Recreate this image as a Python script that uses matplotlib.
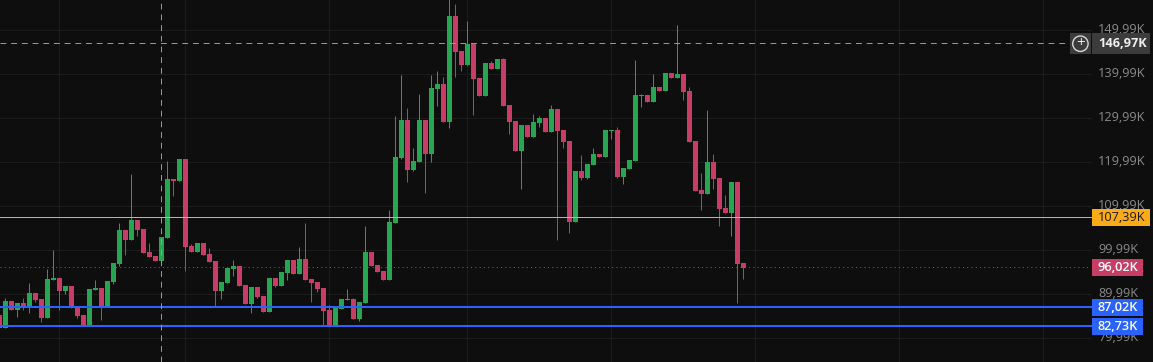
import matplotlib
matplotlib.use('Agg')
import matplotlib.pyplot as plt
import numpy as np
from matplotlib.patches import Rectangle, Circle
from matplotlib.transforms import Affine2D

plt.rcParams['font.family'] = ['Open Sans', 'DejaVu Sans']

# daily candles, prices in thousands
opens = [85.29, 82.41, 88.47, 86.43, 88.02, 87.03, 90.29, 88.93, 84.61, 93.24,
         93.70, 90.74, 91.88, 87.11, 85.29, 82.87, 90.97, 91.43, 87.34, 92.79,
         96.88, 104.61, 102.34, 106.88, 104.84, 99.61, 98.70, 97.56, 102.79, 116.20,
         115.74, 120.74, 100.97, 99.61, 101.65, 99.15, 97.56, 90.74, 92.56, 95.74,
         96.43, 92.11, 87.79, 91.65, 89.61, 85.97, 93.70, 91.88, 94.84, 97.79,
         94.61, 98.02, 93.47, 92.79, 91.43, 86.43, 82.87, 86.65, 88.70, 88.93,
         84.38, 88.02, 99.61, 96.65, 95.29, 93.24, 106.20, 120.97, 129.61, 118.24,
         120.06, 129.61, 121.88, 136.65, 137.79, 129.15, 153.24, 145.29, 142.11, 146.88,
         139.15, 135.06, 142.56, 141.20, 143.47, 133.02, 129.38, 122.56, 128.47, 125.74,
         128.92, 130.06, 126.88, 132.11, 127.33, 124.83, 106.42, 118.01, 116.42, 119.38,
         121.88, 121.19, 127.10, 127.33, 116.65, 118.47, 120.28, 135.06, 135.28, 133.69,
         137.10, 136.19, 140.28, 139.15, 140.06, 136.19, 124.83, 113.69, 112.78, 120.06,
         116.42, 109.60, 108.47, 115.51, 97.10]
closes = [82.41, 88.47, 86.43, 88.02, 87.03, 90.29, 88.70, 84.61, 93.47, 93.70,
          90.74, 91.88, 86.88, 85.06, 82.87, 91.20, 91.43, 87.34, 93.02, 97.11,
          104.61, 102.34, 106.88, 104.61, 99.38, 98.47, 97.56, 103.02, 116.20, 115.74,
          120.74, 100.74, 99.61, 101.65, 98.93, 97.34, 90.74, 92.79, 95.97, 96.43,
          91.88, 87.79, 91.65, 89.38, 85.97, 93.70, 91.88, 95.06, 97.79, 94.61,
          98.02, 93.24, 92.56, 91.20, 86.20, 82.87, 86.88, 88.93, 88.93, 84.38,
          88.24, 99.61, 96.43, 95.06, 93.24, 106.43, 121.20, 129.61, 118.24, 120.29,
          129.61, 121.88, 136.88, 137.79, 129.15, 153.24, 145.06, 142.11, 146.88, 138.93,
          135.06, 142.56, 141.20, 143.47, 132.79, 129.15, 122.56, 128.47, 125.74, 129.15,
          130.06, 126.88, 132.11, 127.11, 124.61, 106.42, 118.01, 116.42, 119.60, 121.88,
          121.19, 127.33, 127.33, 116.65, 118.69, 120.51, 135.28, 135.28, 133.69, 137.10,
          136.19, 140.28, 139.15, 140.06, 135.97, 124.60, 113.47, 112.78, 120.06, 116.19,
          109.38, 108.47, 115.51, 96.88, 96.02]
highs = [85.29, 89.15, 88.47, 88.02, 89.15, 92.56, 90.29, 88.93, 95.74, 100.06,
         93.70, 91.88, 91.88, 87.11, 85.29, 91.20, 93.24, 91.43, 93.02, 97.11,
         106.20, 104.61, 117.34, 106.88, 104.84, 101.65, 98.70, 103.02, 120.29, 116.20,
         120.74, 120.74, 101.43, 101.65, 101.65, 100.52, 97.56, 92.79, 95.97, 97.79,
         96.43, 92.11, 91.65, 91.65, 89.61, 93.70, 93.70, 95.06, 97.79, 97.79,
         100.74, 106.20, 93.47, 92.79, 91.43, 87.56, 87.34, 88.93, 91.20, 89.15,
         88.24, 105.52, 99.61, 96.65, 95.29, 109.15, 130.52, 139.83, 132.33, 123.24,
         135.52, 129.61, 139.83, 140.74, 139.38, 158.00, 155.97, 145.29, 152.11, 146.88,
         139.15, 142.56, 143.02, 143.47, 143.70, 133.02, 129.38, 128.47, 128.47, 130.97,
         130.52, 130.06, 133.02, 132.11, 127.33, 124.83, 118.01, 121.65, 119.60, 123.24,
         121.88, 127.33, 127.33, 128.01, 118.69, 120.51, 143.24, 135.51, 135.28, 140.06,
         137.10, 140.28, 140.28, 151.19, 140.06, 137.10, 124.83, 117.56, 131.88, 121.88,
         116.42, 112.56, 115.51, 115.51, 97.10]
lows = [82.41, 82.41, 86.43, 84.91, 86.43, 85.74, 88.24, 83.70, 84.61, 93.24,
        86.43, 90.06, 86.88, 84.61, 82.87, 82.87, 90.97, 84.15, 87.34, 92.34,
        96.43, 98.93, 102.34, 103.24, 99.38, 98.47, 97.56, 96.88, 102.79, 112.34,
        115.74, 95.37, 99.61, 99.61, 98.93, 97.34, 87.11, 88.93, 92.56, 94.15,
        91.88, 87.79, 85.74, 89.15, 85.97, 85.97, 91.65, 91.88, 93.24, 94.61,
        94.61, 93.24, 88.24, 90.52, 82.87, 82.87, 82.87, 86.65, 88.70, 84.38,
        83.93, 88.02, 96.43, 95.06, 93.24, 93.24, 106.20, 120.74, 115.52, 118.01,
        120.06, 113.02, 120.06, 132.79, 129.15, 127.79, 139.38, 140.74, 142.11, 130.74,
        135.06, 135.06, 141.20, 141.20, 132.79, 126.42, 122.56, 113.92, 125.74, 125.74,
        128.01, 126.88, 126.88, 102.33, 123.24, 103.92, 106.42, 115.97, 116.19, 119.38,
        121.19, 121.19, 125.28, 116.42, 115.06, 118.47, 120.28, 132.56, 133.69, 133.69,
        136.19, 136.19, 139.15, 139.15, 134.15, 124.60, 113.47, 109.15, 112.78, 113.92,
        105.51, 108.47, 103.24, 88.01, 93.47]

tick_values = [149.99, 139.99, 129.99, 119.99, 109.99, 99.99, 89.99, 79.99]
tick_labels = ['149,99K', '139,99K', '129,99K', '119,99K', '109,99K', '99,99K', '89,99K', '79,99K']
month_starts = [10, 31, 55, 78, 102, 126, 150, 174]

crosshair_price = 146.97
crosshair_bar = 27
resistance = 107.39
last_price = 96.02
support_hi = 87.02
support_lo = 82.73

BG = '#0e0e0e'
GRID = '#1d1d1d'
GREEN = '#26a650'
RED = '#c93c66'
BLUE = '#2962ff'
ORANGE = '#fbab16'
AXIS_TEXT = '#8a8a8a'
THIN = 0.7  # stays one pixel wide after snapping

fig = plt.figure(figsize=(11.53, 3.62), dpi=100, facecolor=BG)
ax = fig.add_axes([0, 0, 1, 1], facecolor=BG)
ax.set_xlim(0.11667, 192.283)
ax.set_ylim(74.60, 156.876)
ax.axis('off')

# chart pane ends where the price scale begins
pane_end = 1091 / 1153
text_x = 1098 / 1153
ytrans = ax.get_yaxis_transform()
# level lines sit a hair higher so they snap onto the same pixel rows as the reference
level_trans = ytrans + Affine2D().translate(0, 0.4)
# scale labels ride a little above their gridlines
tick_trans = ytrans + Affine2D().translate(0, 1.2)

for p in tick_values:
    ax.plot([0, pane_end], [p, p], transform=ytrans, color=GRID, lw=THIN, zorder=1)
for m in month_starts:
    ax.axvline(m, color=GRID, lw=THIN, zorder=1)

x = np.arange(len(opens))
o = np.array(opens)
c = np.array(closes)
colors = [GREEN if ci >= oi else RED for oi, ci in zip(o, c)]

ax.vlines(x, lows, highs, colors=colors, lw=THIN, zorder=2)
ax.bar(x, np.abs(c - o), bottom=np.minimum(o, c), width=5 / 6, color=colors, lw=0, zorder=3)

# levels
ax.plot([0, pane_end], [resistance] * 2, transform=level_trans, color='#f5b52e', lw=THIN, zorder=4)
ax.plot([0, pane_end], [last_price] * 2, transform=level_trans, color=RED, lw=THIN, ls=(0, (1, 3.4)), zorder=4)
ax.plot([0, pane_end], [support_hi] * 2, transform=level_trans, color=BLUE, lw=1.44, zorder=4)
ax.plot([0, pane_end], [support_lo] * 2, transform=level_trans, color=BLUE, lw=1.44, zorder=4)

# crosshair
ax.plot([0, 1070 / 1153], [crosshair_price] * 2, transform=level_trans, color='#9c9c9c', lw=THIN, ls=(0, (6, 5)), zorder=5)
ax.axvline(crosshair_bar, color='#9c9c9c', lw=THIN, ls=(0, (6, 5)), zorder=5)

# price scale
for p, t in zip(tick_values, tick_labels):
    ax.text(text_x, p, t, transform=tick_trans, color=AXIS_TEXT, fontsize=9.2, ha='left', va='center', zorder=6)


def price_tag(price, text, face, fg, right, weight='normal'):
    h = 17 / 4.4
    ax.add_patch(Rectangle((1092 / 1153, price - h / 2), (right - 1092) / 1153, h, transform=ytrans,
                           facecolor=face, edgecolor='none', zorder=7))
    ax.text(text_x, price, text, transform=ytrans, color=fg, fontsize=9.2, ha='left', va='center',
            fontweight=weight, zorder=8)


price_tag(resistance, '107,39K', ORANGE, '#1a1a1a', 1150)
price_tag(last_price, '96,02K', RED, 'white', 1143, weight='semibold')
price_tag(support_hi, '87,02K', BLUE, 'white', 1143, weight='semibold')
price_tag(support_lo, '82,73K', BLUE, 'white', 1143, weight='semibold')

# crosshair tag and the plus button next to it
h = 21 / 4.4
ax.add_patch(Rectangle((1092 / 1153, crosshair_price - h / 2), 58 / 1153, h, transform=ytrans,
                       facecolor='#3c3c3c', edgecolor='none', zorder=7))
ax.add_patch(Rectangle((1070 / 1153, crosshair_price - h / 2), 21 / 1153, h, transform=ytrans,
                       facecolor='#3c3c3c', edgecolor='none', zorder=7))
ax.text(text_x, crosshair_price, '146,97K', transform=ytrans, color='#f0f0f0', fontsize=9.2,
        fontweight='bold', ha='left', va='center', zorder=8)
ax.text(1080.5 / 1153, crosshair_price, '+', transform=ytrans, color='#e8e8e8', fontsize=11,
        ha='center', va='center', zorder=8)
cy = 1 - 43.7 / 362
ax.add_patch(Circle((1080.4 / 1153 * 11.53, cy * 3.62), 0.077, transform=fig.dpi_scale_trans,
                    facecolor='none', edgecolor='#d8d8d8', lw=1.0, zorder=8))

plt.savefig('out.png', dpi=100, facecolor=BG)
